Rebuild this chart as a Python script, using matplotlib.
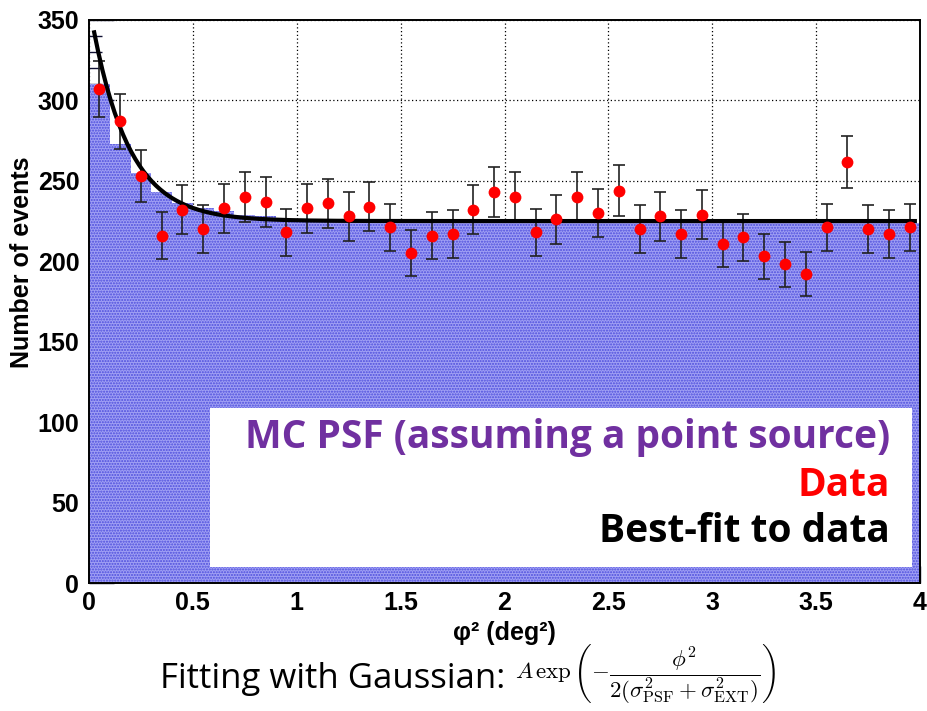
"""
Extended-source fit: phi^2 distribution of events vs MC PSF (point source).
"""

import numpy as np
import matplotlib
matplotlib.use("Agg")
import matplotlib.pyplot as plt
from matplotlib.patches import Rectangle
from matplotlib.ticker import MultipleLocator

plt.rcParams["mathtext.fontset"] = "cm"
plt.rcParams["hatch.linewidth"] = 1.0

# --- data ------------------------------------------------------------------
bin_edges = np.round(np.arange(0.0, 4.0001, 0.1), 2)
bin_centers = np.round(bin_edges[:-1] + 0.05, 2)

# MC PSF histogram (point source), counts per 0.1 deg^2 bin
mc_counts = [310, 273, 255, 243, 236, 233, 231, 229, 228, 226,
             225, 225, 225, 224, 224, 224, 224, 224, 224, 224,
             224, 224, 224, 224, 224, 224, 224, 224, 224, 224,
             224, 224, 224, 224, 224, 224, 224, 224, 224, 224]

# observed data, counts per bin
data_counts = [307, 287, 253, 216, 232, 220, 233, 240, 237, 218,
               233, 236, 228, 234, 221, 205, 216, 217, 232, 243,
               240, 218, 226, 240, 230, 244, 220, 228, 217, 229,
               211, 215, 203, 198, 192, 221, 262, 220, 217, 221]
data_err = np.sqrt(data_counts)  # Poisson errors

# best-fit parameters: A*exp(-phi^2 / (2(sig_psf^2+sig_ext^2))) + flat
fit_amp = 135.0
fit_two_sigma_sq = 0.178
fit_flat = 225.0
fit_range = (0.025, 3.975)

x_ticks = [0, 0.5, 1, 1.5, 2, 2.5, 3, 3.5, 4]
x_tick_labels = ["0", "0.5", "1", "1.5", "2", "2.5", "3", "3.5", "4"]
y_ticks = [0, 50, 100, 150, 200, 250, 300, 350]

legend_lines = [("MC PSF (assuming a point source)", "#7030A0"),
                ("Data", "#FF0000"),
                ("Best-fit to data", "#000000")]

# --- figure ------------------------------------------------------------------
fig = plt.figure(figsize=(9.27, 7.11), dpi=100)
ax = fig.add_axes([0.096, 0.18, 0.8965, 0.7919])

ax.bar(bin_edges[:-1], mc_counts, width=0.1, align="edge",
       color="#a0a0f4", edgecolor="#4c4cdc", linewidth=0, hatch="......",
       zorder=1)

phi2 = np.linspace(fit_range[0], fit_range[1], 400)
fit_curve = fit_amp * np.exp(-phi2 / fit_two_sigma_sq) + fit_flat
ax.plot(phi2, fit_curve, color="black", lw=3.0, zorder=4)

ax.errorbar(bin_centers, data_counts, yerr=data_err, fmt="none",
            ecolor="#222222", elinewidth=1.2, capsize=4, capthick=1.2,
            zorder=3)
ax.plot(bin_centers, data_counts, "o", color="#ff0000", ms=8.5,
        markeredgewidth=0, zorder=5)

ax.set_xlim(0, 4)
ax.set_ylim(0, 350)
ax.set_xticks(x_ticks)
ax.set_xticklabels(x_tick_labels)
ax.set_yticks(y_ticks)
ax.xaxis.set_minor_locator(MultipleLocator(0.1))
ax.yaxis.set_minor_locator(MultipleLocator(10))
ax.grid(True, which="major", color="black", ls=(0, (1, 2)), lw=0.9)
ax.set_axisbelow(True)

ax.tick_params(axis="both", which="both", direction="in", top=False,
               right=False, labelsize=18, width=1.0, color="#111133")
ax.tick_params(axis="y", which="major", length=18, pad=7)
ax.tick_params(axis="y", which="minor", length=9)
ax.tick_params(axis="x", which="major", length=12, pad=6)
ax.tick_params(axis="x", which="minor", length=6)
for lab in ax.get_xticklabels() + ax.get_yticklabels():
    lab.set_fontfamily("Liberation Sans")
    lab.set_fontweight("bold")
for sp in ax.spines.values():
    sp.set_linewidth(1.4)

ax.set_xlabel("φ² (deg²)", fontfamily="Liberation Sans", fontweight="bold",
              fontsize=18, labelpad=4)
ax.set_ylabel("Number of events", fontfamily="Liberation Sans",
              fontweight="bold", fontsize=18)
ax.yaxis.set_label_coords(-0.066, 0.57)

# legend panel
ax.add_patch(Rectangle((0.146, 0.028), 0.844, 0.282, transform=ax.transAxes,
                       facecolor="white", edgecolor="none", zorder=6))
for (txt, col), ypos in zip(legend_lines, [0.259, 0.174, 0.092]):
    ax.text(0.964, ypos, txt, transform=ax.transAxes, ha="right",
            va="center", color=col, fontsize=28, fontfamily="Open Sans",
            fontweight="bold", zorder=7)

fig.text(0.545, 0.045, "Fitting with Gaussian:", ha="right", va="center",
         fontsize=25, fontfamily="Open Sans")
fig.text(0.556, 0.052,
         r"$A\,\exp\left(-\dfrac{\phi^2}{2(\sigma^2_{\rm PSF}"
         r"+\sigma^2_{\rm EXT})}\right)$",
         ha="left", va="center", fontsize=16.5)

fig.savefig("out.png", dpi=100)
